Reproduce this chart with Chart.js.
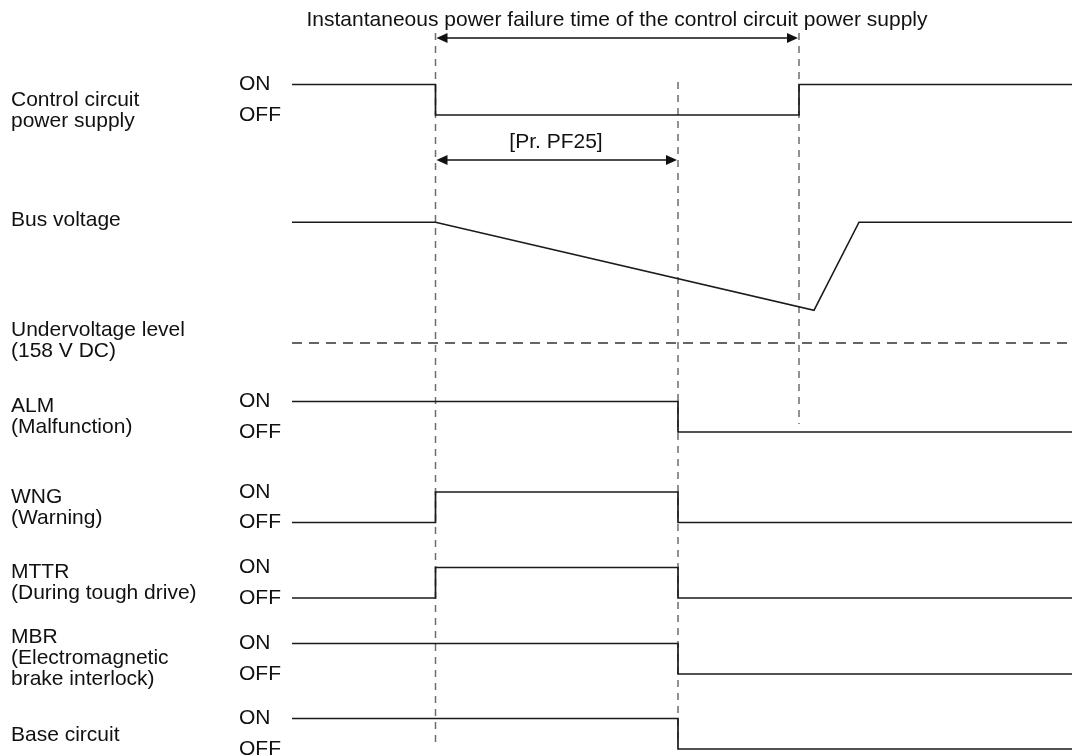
<!DOCTYPE html>
<html>
<head>
<meta charset="utf-8">
<script src="https://cdn.jsdelivr.net/npm/chart.js@4/dist/chart.umd.min.js"></script>
<style>
  html, body { margin: 0; padding: 0; background: #fff; }
  canvas { display: block; }
</style>
</head>
<body>
<canvas id="timing" width="1072" height="755"></canvas>
<script>
// time of each event (arbitrary units, 0 = start of the drawing)
const tStart = 0;
const tFailure = 14.35;     // control circuit power lost
const tPF25 = 38.6;         // [Pr. PF25] elapsed
const tRestore = 50.7;      // control circuit power back
const tBusLow = 52.2;       // bus voltage lowest point
const tBusBack = 56.7;      // bus voltage recovered
const tEnd = 78;

// signal states (1 = ON, 0 = OFF), each state starts at the matching time
const controlTimes = [tStart, tFailure, tRestore, tEnd];
const controlStates = [1, 0, 1, 1];
const almTimes = [tStart, tPF25, tEnd];
const almStates = [1, 0, 0];
const wngTimes = [tStart, tFailure, tPF25, tEnd];
const wngStates = [0, 1, 0, 0];
const mttrTimes = [tStart, tFailure, tPF25, tEnd];
const mttrStates = [0, 1, 0, 0];
const mbrTimes = [tStart, tPF25, tEnd];
const mbrStates = [1, 0, 0];
const baseTimes = [tStart, tPF25, tEnd];
const baseStates = [1, 0, 0];

// bus voltage (V DC)
const busTimes = [tStart, tFailure, tBusLow, tBusBack, tEnd];
const busVolts = [280, 280, 191, 280, 280];
const underVoltage = 158;

// vertical marker lines
const markerTimes = [tFailure, tPF25, tRestore];

// ---- layout (pixels) ----
const offY = { control: 115, alm: 432, wng: 522.5, mttr: 598, mbr: 674, base: 749 };
const onHeight = 30.5;
const busBaseY = 343;      // y of the undervoltage level
const pxPerVolt = 0.99;
const markerSpan = [[33, 745], [82, 745], [33, 424]];
const font = '21px "Liberation Sans", Arial, sans-serif';
const ink = '#1a1a1a';

function signalPoints(times, states, row) {
  return times.map((t, i) => ({ x: t, y: offY[row] - states[i] * onHeight }));
}

function stepSet(times, states, row) {
  return {
    data: signalPoints(times, states, row),
    borderColor: ink,
    borderWidth: 1.7,
    stepped: true,
    pointRadius: 0
  };
}

const datasets = [
  stepSet(controlTimes, controlStates, 'control'),
  stepSet(almTimes, almStates, 'alm'),
  stepSet(wngTimes, wngStates, 'wng'),
  stepSet(mttrTimes, mttrStates, 'mttr'),
  stepSet(mbrTimes, mbrStates, 'mbr'),
  stepSet(baseTimes, baseStates, 'base'),
  {
    data: busTimes.map((t, i) => ({ x: t, y: busBaseY - (busVolts[i] - underVoltage) * pxPerVolt })),
    borderColor: ink,
    borderWidth: 1.6,
    pointRadius: 0
  },
  {
    data: [{ x: tStart, y: busBaseY }, { x: tEnd + 1, y: busBaseY }],
    borderColor: '#333',
    borderWidth: 1.4,
    borderDash: [10, 7],
    pointRadius: 0
  }
];

markerTimes.forEach((t, i) => {
  datasets.push({
    data: [{ x: t, y: markerSpan[i][0] }, { x: t, y: markerSpan[i][1] }],
    borderColor: '#6e6e6e',
    borderWidth: 1.5,
    borderDash: [7, 6],
    pointRadius: 0
  });
});

// left side captions and ON/OFF labels
const captions = [
  { lines: ['Control circuit', 'power supply'], y: 100 },
  { lines: ['Bus voltage'], y: 220 },
  { lines: ['Undervoltage level', '(158 V DC)'], y: 330 },
  { lines: ['ALM', '(Malfunction)'], y: 406 },
  { lines: ['WNG', '(Warning)'], y: 497 },
  { lines: ['MTTR', '(During tough drive)'], y: 572 },
  { lines: ['MBR', '(Electromagnetic', 'brake interlock)'], y: 637 },
  { lines: ['Base circuit'], y: 735 }
];
const lineGap = 21;

function arrow(ctx, x1, x2, y) {
  ctx.beginPath();
  ctx.moveTo(x1 + 8, y);
  ctx.lineTo(x2 - 8, y);
  ctx.stroke();
  [[x1, 1], [x2, -1]].forEach(([x, d]) => {
    ctx.beginPath();
    ctx.moveTo(x, y);
    ctx.lineTo(x + d * 11, y - 5);
    ctx.lineTo(x + d * 11, y + 5);
    ctx.closePath();
    ctx.fill();
  });
}

const textPlugin = {
  id: 'texts',
  afterDraw(chart) {
    const ctx = chart.ctx;
    const xs = chart.scales.x;
    ctx.save();
    ctx.font = font;
    ctx.fillStyle = '#111';
    ctx.strokeStyle = '#111';
    ctx.lineWidth = 1.3;
    ctx.textBaseline = 'middle';
    ctx.textAlign = 'left';

    captions.forEach(c => {
      c.lines.forEach((s, i) => ctx.fillText(s, 11, c.y + i * lineGap));
    });

    Object.keys(offY).forEach(row => {
      ctx.fillText('ON', 239, offY[row] - onHeight);
      ctx.fillText('OFF', 239, offY[row]);
    });

    ctx.textAlign = 'center';
    ctx.fillText('Instantaneous power failure time of the control circuit power supply', 617, 20);
    ctx.fillText('[Pr. PF25]', 556, 142);

    arrow(ctx, xs.getPixelForValue(tFailure) + 1, xs.getPixelForValue(tRestore) - 1, 38);
    arrow(ctx, xs.getPixelForValue(tFailure) + 1, xs.getPixelForValue(tPF25) - 1, 160);
    ctx.restore();
  }
};

new Chart(document.getElementById('timing'), {
  type: 'scatter',
  data: { datasets },
  options: {
    responsive: false,
    animation: false,
    showLine: true,
    layout: { padding: 0 },
    plugins: { legend: { display: false }, tooltip: { enabled: false } },
    scales: {
      x: { type: 'linear', min: -29.2, max: 78, display: false },
      y: { type: 'linear', min: 0, max: 755, reverse: true, display: false }
    }
  },
  plugins: [textPlugin]
});
</script>
</body>
</html>
